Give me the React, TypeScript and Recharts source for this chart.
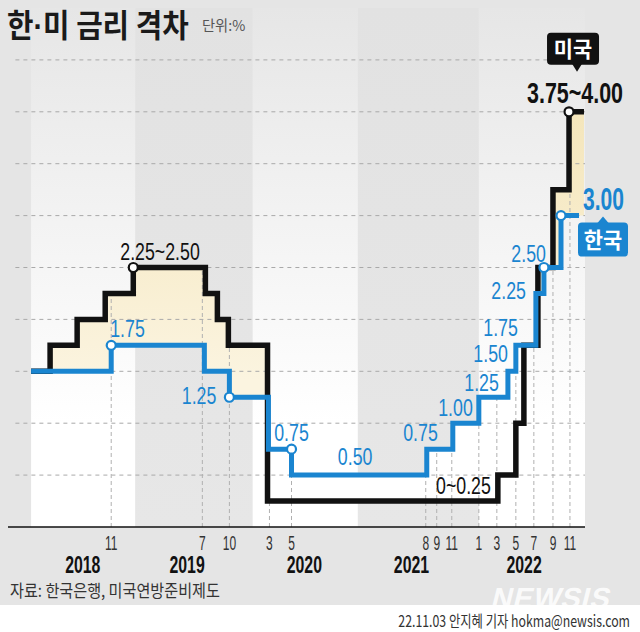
import React from 'react';
import {
  ComposedChart,
  Area,
  Line,
  Scatter,
  XAxis,
  YAxis,
  ReferenceArea,
  ReferenceLine
} from 'recharts';

// x = months since Jan 2018, y = policy rate %
const usMonths = [0, 2.06, 4.99, 8.03, 11.07, 18.88, 20.18, 21.37, 25.61, 50.56, 52.51, 53.38, 54.9, 56.53, 58.27];
const usRates = [1.5, 1.75, 2.0, 2.25, 2.5, 2.25, 2.0, 1.75, 0.25, 0.5, 1.0, 1.75, 2.5, 3.25, 4.0];
const usEnd = 59.89;

const krMonths = [0, 8.68, 18.77, 21.48, 25.71, 28.21, 42.86, 45.68, 48.5, 51.65, 52.51, 54.68, 55.55, 57.4];
const krRates = [1.5, 1.75, 1.5, 1.25, 0.75, 0.5, 0.75, 1.0, 1.25, 1.5, 1.75, 2.25, 2.5, 3.0];
const krEnd = 59.35;

const tickMonths = [8.68, 18.55, 21.48, 25.82, 28.21, 42.75, 43.94, 45.57, 48.5, 50.45, 52.51, 54.46, 56.53, 58.37];
const tickLabels = ['11', '7', '10', '3', '5', '8', '9', '11', '1', '3', '5', '7', '9', '11'];

const yearCenters = [5.6, 16.9, 29.6, 41.2, 53.4];
const yearLabels = ['2018', '2019', '2020', '2021', '2022'];
const yearEdges = [0, 11.3, 24.0, 35.4, 48.5, 60];

const yTicks = [0.5, 1, 1.5, 2, 2.5, 3, 3.5, 4, 4.5];

const usMarks = [{ m: 11.07, v: 2.5 }, { m: 58.27, v: 4.0 }];
const krMarks = [
  { m: 8.68, v: 1.75 },
  { m: 21.48, v: 1.25 },
  { m: 28.21, v: 0.75 },
  { m: 55.55, v: 2.5 },
  { m: 57.4, v: 3.0 }
];

const krNotes = [
  { m: 8.68, v: 1.75, text: '1.75' },
  { m: 21.48, v: 1.25, text: '1.25' },
  { m: 28.21, v: 0.75, text: '0.75' },
  { m: 35.1, v: 0.5, text: '0.50' },
  { m: 42.86, v: 0.75, text: '0.75' },
  { m: 45.68, v: 1.0, text: '1.00' },
  { m: 48.5, v: 1.25, text: '1.25' },
  { m: 51.65, v: 1.5, text: '1.50' },
  { m: 52.51, v: 1.75, text: '1.75' },
  { m: 54.68, v: 2.25, text: '2.25' },
  { m: 55.55, v: 2.5, text: '2.50' }
];
const usNotes = [
  { m: 11.07, v: 2.5, text: '2.25~2.50' },
  { m: 50.56, v: 0.25, text: '0~0.25' }
];
const usHead = [{ m: 58.27, v: 4.0, text: '3.75~4.00', tag: '미국' }];
const krHead = [{ m: 57.4, v: 3.0, text: '3.00', tag: '한국' }];

// label placement: [dx, dy, anchor]
const krNoteLayout: [number, number, string][] = [
  [-1, -8, 'start'],
  [-13, 7, 'end'],
  [0, -8, 'middle'],
  [0, -10, 'middle'],
  [11, -8, 'end'],
  [20, -7, 'end'],
  [20, -6, 'end'],
  [0, -9, 'end'],
  [2, -9, 'end'],
  [-10, 6, 'end'],
  [2, -6, 'end']
];
const usNoteLayout: [number, number, string][] = [
  [-13, -8, 'start'],
  [-7, -7, 'end']
];

const NUM = "'Liberation Sans', Arial, sans-serif";
const KR = "'Noto Sans CJK KR', 'Noto Sans', sans-serif";
const BLUE = '#1a85d0';
const BLACK = '#111111';

const rateAt = (months: number[], rates: number[], x: number) => {
  let r = rates[0];
  months.forEach((mm, i) => {
    if (mm <= x + 1e-9) r = rates[i];
  });
  return r;
};

const xs = Array.from(new Set([...usMonths, ...krMonths, krEnd, usEnd])).sort((a, b) => a - b);
const rows = xs.map((m) => {
  const us = rateAt(usMonths, usRates, m);
  const kr = rateAt(krMonths, krRates, m);
  return {
    m,
    us,
    krLine: m <= krEnd ? kr : null,
    gapUp: us > kr ? [kr, us] : [us, us],
    gapDown: kr > us ? [us, kr] : [kr, kr]
  };
});

const CText = ({ x, y, size, sx = 0.72, anchor = 'start', weight = 400, fill = '#222', family = NUM, children }: any) => (
  <text
    transform={`translate(${x},${y}) scale(${sx},1)`}
    fontSize={size}
    textAnchor={anchor}
    fontWeight={weight}
    fill={fill}
    fontFamily={family}
  >
    {children}
  </text>
);

const noteShape = (notes: any[], layout: any[], color: string) => (p: any) => {
  const i = notes.findIndex((n) => n.m === p.payload?.m && n.v === p.payload?.v);
  if (i < 0) return <g />;
  const [dx, dy, anchor] = layout[i];
  return (
    <CText x={p.cx + dx} y={p.cy + dy} size={24} sx={0.74} anchor={anchor} fill={color}>
      {notes[i].text}
    </CText>
  );
};

const markShape = (color: string) => (p: any) => (
  <circle cx={p.cx} cy={p.cy} r={4.5} fill="#fff" stroke={color} strokeWidth={2.2} />
);

const UsHeadShape = (p: any) => {
  const { cx, cy } = p;
  return (
    <g>
      <CText x={cx + 6} y={cy - 9} size={29} sx={0.74} anchor="middle" weight={700} fill={BLACK}>
        {p.payload.text}
      </CText>
      <rect x={cx - 22} y={cy - 79} width={52} height={32} rx={4} fill={BLACK} />
      <polygon points={`${cx + 3},${cy - 48} ${cx + 13},${cy - 48} ${cx + 8},${cy - 40}`} fill={BLACK} />
      <CText x={cx + 4} y={cy - 55} size={22} sx={0.95} anchor="middle" weight={700} fill="#fff" family={KR}>
        {p.payload.tag}
      </CText>
    </g>
  );
};

const KrHeadShape = (p: any) => {
  const { cx, cy } = p;
  return (
    <g>
      <CText x={cx + 22} y={cy - 6} size={31} sx={0.68} weight={700} fill={BLUE}>
        {p.payload.text}
      </CText>
      <rect x={cx + 17} y={cy + 7} width={50} height={34} rx={4} fill={BLUE} />
      <polygon points={`${cx + 36},${cy + 8} ${cx + 48},${cy + 8} ${cx + 42},${cy + 1}`} fill={BLUE} />
      <CText x={cx + 42} y={cy + 32} size={22} sx={0.95} anchor="middle" weight={700} fill="#fff" family={KR}>
        {p.payload.tag}
      </CText>
    </g>
  );
};

const YTick = (p: any) => (
  <CText x={8} y={p.y - 3} size={17} sx={0.62} fill="#333">
    {Number(p.payload.value).toFixed(1)}
  </CText>
);

const MonthTick = (p: any) => (
  <CText x={p.x} y={p.y + 23} size={20} sx={0.6} anchor="middle" fill="#333">
    {tickLabels[tickMonths.indexOf(p.payload.value)]}
  </CText>
);

const YearTick = (p: any) => (
  <CText x={p.x} y={p.y + 24} size={24} sx={0.66} anchor="middle" weight={700} fill="#111">
    {yearLabels[yearCenters.indexOf(p.payload.value)]}
  </CText>
);

const App: React.FC = () => {
  return (
    <div style={{ position: 'absolute', left: 0, top: 0, width: 640, height: 632, background: '#fff', overflow: 'hidden' }}>
      <div style={{ position: 'absolute', left: 0, top: 0, width: 640, height: 605, background: '#e5e5e5' }} />
      <div style={{ position: 'absolute', left: 0, top: 0 }}>
        <ComposedChart width={640} height={632} data={rows} margin={{ top: 8, right: 55, bottom: 53, left: 8 }}>
          <defs>
            <linearGradient id="bandLight" x1="0" y1="0" x2="0" y2="1">
              <stop offset="0%" stopColor="#e6e6e6" />
              <stop offset="80%" stopColor="#ffffff" />
            </linearGradient>
            <linearGradient id="bandGray" x1="0" y1="0" x2="0" y2="1">
              <stop offset="0%" stopColor="#e2e2e2" />
              <stop offset="100%" stopColor="#e7e7e7" />
            </linearGradient>
            <linearGradient id="cream" x1="0" y1="100" x2="0" y2="380" gradientUnits="userSpaceOnUse">
              <stop offset="0%" stopColor="#f4e5b9" />
              <stop offset="100%" stopColor="#fbf4e0" />
            </linearGradient>
          </defs>
          <XAxis
            dataKey="m"
            type="number"
            domain={[-2.5, 60]}
            ticks={tickMonths}
            interval={0}
            tick={MonthTick}
            tickLine={false}
            tickSize={0}
            tickMargin={0}
            axisLine={{ stroke: '#111', strokeWidth: 1.5 }}
            height={22}
          />
          <XAxis
            xAxisId="yr"
            dataKey="m"
            type="number"
            domain={[-2.5, 60]}
            ticks={yearCenters}
            interval={0}
            tick={YearTick}
            tickLine={false}
            tickSize={0}
            tickMargin={0}
            axisLine={false}
            height={30}
          />
          <YAxis
            type="number"
            domain={[0, 5]}
            ticks={yTicks}
            interval={0}
            width={0}
            tick={YTick}
            tickLine={false}
            axisLine={false}
          />
          {yearLabels.map((y, i) => (
            <ReferenceArea
              key={y}
              x1={yearEdges[i]}
              x2={yearEdges[i + 1]}
              fill={i % 2 === 0 ? 'url(#bandLight)' : 'url(#bandGray)'}
              fillOpacity={1}
              stroke="none"
              zIndex={-200}
            />
          ))}
          <Area
            dataKey="gapUp"
            type="stepAfter"
            fill="url(#cream)"
            fillOpacity={1}
            stroke="none"
            isAnimationActive={false}
            activeDot={false}
          />
          <Area
            dataKey="gapDown"
            type="stepAfter"
            fill="#ffffff"
            fillOpacity={1}
            stroke="none"
            isAnimationActive={false}
            activeDot={false}
          />
          {yTicks.map((v) => (
            <ReferenceLine
              key={`g${v}`}
              segment={[{ x: -1.7, y: v }, { x: 60, y: v }]}
              stroke="#a9a9a9"
              strokeDasharray="4 4"
              strokeWidth={1}
              zIndex={150}
            />
          ))}
          {tickMonths.map((t, i) => (
            <ReferenceLine
              key={`t${i}`}
              segment={[
                { x: t, y: 0 },
                { x: t, y: Math.max(rateAt(usMonths, usRates, t), rateAt(krMonths, krRates, t)) }
              ]}
              stroke="#b0b0b0"
              strokeDasharray="4 3"
              strokeWidth={1}
              zIndex={150}
            />
          ))}
          <Line
            dataKey="us"
            type="stepAfter"
            stroke={BLACK}
            strokeWidth={5.5}
            strokeLinejoin="miter"
            dot={false}
            activeDot={false}
            isAnimationActive={false}
          />
          <Line
            dataKey="krLine"
            type="stepAfter"
            stroke={BLUE}
            strokeWidth={5}
            strokeLinejoin="miter"
            dot={false}
            activeDot={false}
            isAnimationActive={false}
          />
          <Scatter data={usMarks} dataKey="v" shape={markShape(BLACK)} isAnimationActive={false} />
          <Scatter data={krMarks} dataKey="v" shape={markShape(BLUE)} isAnimationActive={false} />
          <Scatter data={krNotes} dataKey="v" shape={noteShape(krNotes, krNoteLayout, BLUE)} isAnimationActive={false} />
          <Scatter data={usNotes} dataKey="v" shape={noteShape(usNotes, usNoteLayout, BLACK)} isAnimationActive={false} />
          <Scatter data={usHead} dataKey="v" shape={UsHeadShape} isAnimationActive={false} />
          <Scatter data={krHead} dataKey="v" shape={KrHeadShape} isAnimationActive={false} />
        </ComposedChart>
      </div>
      <svg width={640} height={632} style={{ position: 'absolute', left: 0, top: 0, pointerEvents: 'none' }}>
        <text transform="translate(7,37) scale(0.9,1)" fontSize={32} fontWeight={700} fill="#1a1a1a" fontFamily={KR}>
          한<tspan fontFamily={NUM}>·</tspan>미 금리 격차
        </text>
        <CText x={202} y={31} size={15} sx={0.95} fill="#555" family={KR}>
          단위:%
        </CText>
        <CText x={10} y={597} size={17} sx={0.89} fill="#333" family={KR}>
          자료: 한국은행, 미국연방준비제도
        </CText>
        <g transform="translate(490,608) skewX(-14)">
          <text x={0} y={0} fontSize={29} fontWeight={700} fontFamily={NUM} fill="#ffffff" fillOpacity={0.85} textLength={118}>
            NEWSIS
          </text>
        </g>
        <CText x={630} y={627} size={16} sx={0.77} anchor="end" fill="#333" family={KR}>
          22.11.03 안지혜 기자 hokma@newsis.com
        </CText>
      </svg>
    </div>
  );
};

export default App;
